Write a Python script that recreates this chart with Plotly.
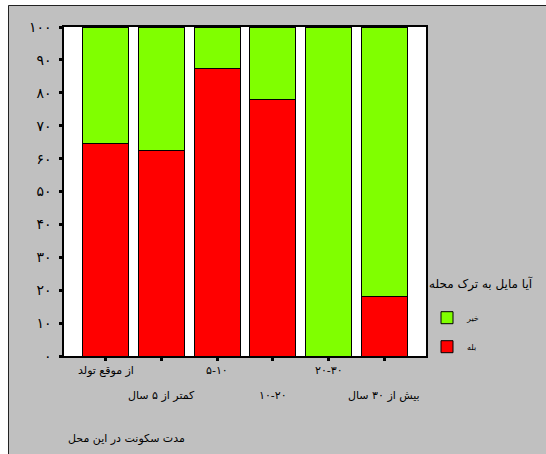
import plotly.graph_objects as go

categories = ["از موقع تولد", "کمتر از ۵ سال", "۵-۱۰", "۱۰-۲۰", "۲۰-۳۰", "بیش از ۳۰ سال"]
yes_values = [64.6, 62.4, 87.5, 78.1, 0.0, 18.0]
no_values = [35.4, 37.6, 12.5, 21.9, 100.0, 82.0]
yes_name = "بله"
no_name = "خیر"
legend_title = "آیا مایل به ترک محله"
x_title = "مدت سکونت در این محل"
y_tickvals = [0, 10, 20, 30, 40, 50, 60, 70, 80, 90, 100]
y_ticktext = ["۰", "۱۰", "۲۰", "۳۰", "۴۰", "۵۰", "۶۰", "۷۰", "۸۰", "۹۰", "۱۰۰"]

FONT = "DejaVu Sans"
W, H = 546, 454
ML, MR, MT, MB = 64, 120, 27, 98
PW, PH = W - ML - MR, H - MT - MB


def px_x(p):
    return (p - ML) / PW


def px_y(p):
    return (H - MB - p) / PH


fig = go.Figure()
fig.add_trace(go.Bar(x=categories, y=yes_values, name=yes_name, legendgroup="yes", legendrank=2,
                     marker=dict(color="#FF0000", line=dict(color="black", width=1))))
fig.add_trace(go.Bar(x=categories, y=no_values, name=no_name, legendgroup="no", legendrank=1,
                     marker=dict(color="#80FF00", line=dict(color="black", width=1))))

annotations = []
for i, c in enumerate(categories):
    row_y = 370 if i % 2 == 0 else 395
    annotations.append(dict(x=c, xref="x", y=px_y(row_y), yref="paper", text=c,
                            showarrow=False, xanchor="center", yanchor="middle",
                            font=dict(family=FONT, size=11, color="black")))
annotations.append(dict(x=px_x(126), xref="paper", y=px_y(438), yref="paper", text=x_title,
                        showarrow=False, xanchor="center", yanchor="middle",
                        font=dict(family=FONT, size=11, color="black")))

shapes = [
    dict(type="rect", xref="paper", yref="paper", x0=px_x(-20), x1=px_x(8), y0=px_y(600), y1=px_y(-20),
         fillcolor="white", line=dict(width=0), layer="above"),
    dict(type="rect", xref="paper", yref="paper", x0=px_x(-20), x1=px_x(700), y0=px_y(5), y1=px_y(-20),
         fillcolor="white", line=dict(width=0), layer="above"),
    dict(type="rect", xref="paper", yref="paper", x0=px_x(8.5), x1=px_x(700), y0=px_y(600), y1=px_y(5.5),
         fillcolor="rgba(0,0,0,0)", line=dict(color="#222222", width=1), layer="above"),
]

fig.update_layout(
    width=W, height=H,
    margin=dict(l=ML, r=MR, t=MT, b=MB, autoexpand=False),
    barmode="stack", bargap=0.174,
    paper_bgcolor="#C0C0C0", plot_bgcolor="white",
    font=dict(family=FONT, size=11, color="black"),
    xaxis=dict(type="category", range=[-0.75, 5.75], showticklabels=False,
               ticks="outside", ticklen=3, tickwidth=3, tickcolor="black",
               showline=True, linecolor="black", linewidth=1.5, mirror=True,
               showgrid=False, zeroline=False, fixedrange=True),
    yaxis=dict(range=[0, 100], tickvals=y_tickvals, ticktext=y_ticktext,
               ticks="outside", ticklen=3, tickwidth=3, tickcolor="black",
               showline=True, linecolor="black", linewidth=1.5, mirror=True,
               showgrid=False, zeroline=False, ticklabelstandoff=5,
               tickfont=dict(family=FONT, size=14, color="black")),
    legend=dict(x=px_x(427), y=px_y(272), xanchor="left", yanchor="top",
                traceorder="grouped", bgcolor="rgba(0,0,0,0)",
                title=dict(text=legend_title + "<br> ", font=dict(family=FONT, size=12, color="black")),
                font=dict(family=FONT, size=8, color="black"),
                tracegroupgap=10),
    annotations=annotations,
    shapes=shapes,
)

fig.write_html("out.html", config={"displayModeBar": False},
               post_script="document.body.style.margin='0px';")
